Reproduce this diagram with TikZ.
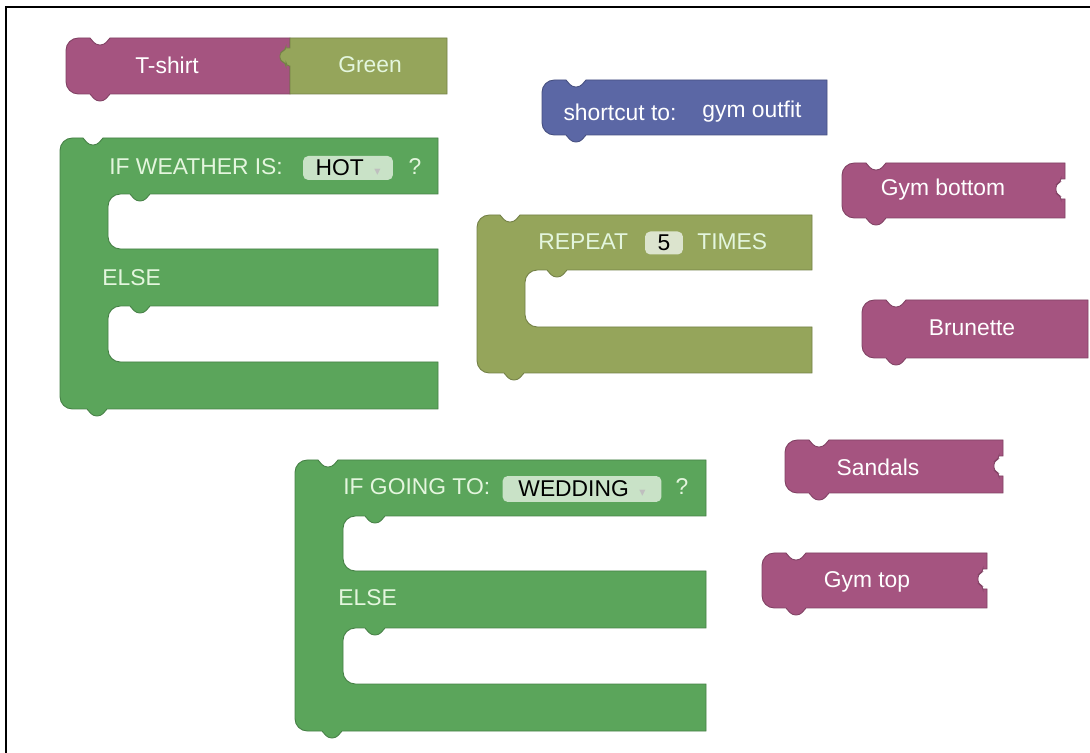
\documentclass[tikz,border=0pt]{standalone}
\usepackage{fontspec}
\usepackage{xcolor}
\setmainfont{Liberation Sans}
\newfontfamily\symfont{DejaVu Sans}

\definecolor{looks}{RGB}{165,84,128}
\definecolor{logic}{RGB}{91,165,91}
\definecolor{loops}{RGB}{149,165,91}
\definecolor{procs}{RGB}{91,103,165}
\definecolor{logictext}{RGB}{228,246,222}
\definecolor{fieldfill}{RGB}{201,226,199}
\definecolor{numfill}{RGB}{220,228,206}

\newcommand{\dropmark}{{\color{black!25}\symfont\fontsize{7}{7}\selectfont ▾}}

% stack block: colour, x, y, width, height
\newcommand{\plainblk}[5]{%
  \begin{scope}[shift={(#2,#3)}]
    \path[blk=#1] (0,#5/2) [rounded corners=7] -- (0,0) [sharp corners] -- (24,0) [rounded corners=2] -- (30,7) -- (38,7) [sharp corners] -- (44,0) -- (#4,0) -- (#4,#5) -- (44,#5) [rounded corners=2] -- (38,#5+7) -- (30,#5+7) [sharp corners] -- (24,#5) [rounded corners=7] -- (0,#5) -- cycle;
  \end{scope}}
% same, with a socket on the right
\newcommand{\socketblk}[5]{%
  \begin{scope}[shift={(#2,#3)}]
    \path[blk=#1] (0,#5/2) [rounded corners=7] -- (0,0) [sharp corners] -- (24,0) [rounded corners=2] -- (30,7) -- (38,7) [sharp corners] -- (44,0) -- (#4,0) -- (#4,16) -- (#4-4,16) [rounded corners=2] -- (#4-4,19) -- (#4-9,21) -- (#4-9,31) -- (#4-4,33) [sharp corners] -- (#4-4,36) -- (#4,36) -- (#4,#5) -- (44,#5) [rounded corners=2] -- (38,#5+7) -- (30,#5+7) [sharp corners] -- (24,#5) [rounded corners=7] -- (0,#5) -- cycle;
  \end{scope}}
% if/else block: x, y, width
\newcommand{\ifblk}[3]{%
  \begin{scope}[shift={(#1,#2)}]
    \path[blk=logic] (0,136) [rounded corners=7] -- (0,0) [sharp corners] -- (23,0) [rounded corners=2] -- (29,7) -- (37,7) [sharp corners] -- (43,0) -- (#3,0) -- (#3,56) -- (90,56) [rounded corners=2] -- (84,63) -- (76,63) [sharp corners] -- (70,56) [rounded corners=7] -- (48,56) -- (48,111) [sharp corners] -- (#3,111) -- (#3,168) -- (90,168) [rounded corners=2] -- (84,175) -- (76,175) [sharp corners] -- (70,168) [rounded corners=7] -- (48,168) -- (48,224) [sharp corners] -- (#3,224) -- (#3,271) -- (47,271) [rounded corners=2] -- (41,278) -- (33,278) [sharp corners] -- (27,271) [rounded corners=7] -- (0,271) -- cycle;
  \end{scope}}

\begin{document}
\begin{tikzpicture}[x=0.02cm,y=-0.02cm,
    blk/.style={fill=#1,draw=#1!78!black,line width=0.5pt},
    lbl/.style={font=\fontsize{13}{15}\selectfont,inner sep=0pt},
    field/.style={lbl,rounded corners=3pt,inner sep=0pt},
  ]
  \useasboundingbox (0,0) rectangle (1090,753);
  \fill[white] (0,0) rectangle (1090,753);
  \draw[line width=1.6pt] (6,753) -- (6,7) -- (1090,7);

  \plainblk{looks}{66}{38}{224}{56}
  \begin{scope}[shift={(290,38)}]
    \path[blk=loops] (0,0) -- (157,0) -- (157,56) -- (0,56) -- (0,28) [rounded corners=2] -- (-4,28) -- (-4,25) -- (-10,23) -- (-10,14) -- (-4,12) [sharp corners] -- (-4,10) -- (0,10) -- cycle;
  \end{scope}
  \node[lbl,text=white] (tshirt) at (167,65) {T-shirt};
  \node[lbl,text=logictext] (green) at (370,65) {Green};

  \plainblk{procs}{542}{80}{285}{55}
  \node[lbl,text=white] (shortcut) at (620,112) {shortcut to:};
  \node[lbl,text=white] (gymoutfit) at (752,112) {gym outfit};

  \ifblk{60}{138}{378}
  \node[lbl,text=logictext,anchor=west] (ifweather) at (109,167) {IF WEATHER IS:};
  \node[field,fill=fieldfill,minimum width=1.8cm,minimum height=0.48cm] (hot) at (348,168) {HOT\hspace{6pt}\dropmark};
  \node[lbl,text=logictext] (hotq) at (415,167) {?};
  \node[lbl,text=logictext,anchor=west] (elseA) at (102,278) {ELSE};

  \begin{scope}[shift={(477,215)}]
    \path[blk=loops] (0,80) [rounded corners=7] -- (0,0) [sharp corners] -- (23,0) [rounded corners=2] -- (29,7) -- (37,7) [sharp corners] -- (43,0) -- (335,0) -- (335,55) -- (90,55) [rounded corners=2] -- (84,62) -- (76,62) [sharp corners] -- (70,55) [rounded corners=7] -- (48,55) -- (48,112) [sharp corners] -- (335,112) -- (335,158) -- (47,158) [rounded corners=2] -- (41,165) -- (33,165) [sharp corners] -- (27,158) [rounded corners=7] -- (0,158) -- cycle;
  \end{scope}
  \node[lbl,text=logictext,anchor=west] (repeat) at (538,242) {REPEAT};
  \node[field,fill=numfill,minimum width=0.76cm,minimum height=0.46cm] (five) at (664,243) {5};
  \node[lbl,text=logictext,anchor=west] (times) at (697,242) {TIMES};

  \socketblk{looks}{842}{163}{223}{55}
  \node[lbl,text=white] (gymbottom) at (943,190) {Gym bottom};
  \plainblk{looks}{862}{300}{226}{58}
  \node[lbl,text=white] (brunette) at (972,328) {Brunette};
  \socketblk{looks}{785}{440}{218}{53}
  \node[lbl,text=white] (sandals) at (878,467) {Sandals};
  \socketblk{looks}{762}{553}{225}{55}
  \node[lbl,text=white] (gymtop) at (867,582) {Gym top};

  \ifblk{295}{460}{411}
  \node[lbl,text=logictext,anchor=west] (ifgoing) at (343,487) {IF GOING TO:};
  \node[field,fill=fieldfill,minimum width=3.18cm,minimum height=0.52cm] (wedding) at (582,489) {WEDDING\hspace{6pt}\dropmark};
  \node[lbl,text=logictext] (weddingq) at (682,487) {?};
  \node[lbl,text=logictext,anchor=west] (elseB) at (338,598) {ELSE};
\end{tikzpicture}
\end{document}
